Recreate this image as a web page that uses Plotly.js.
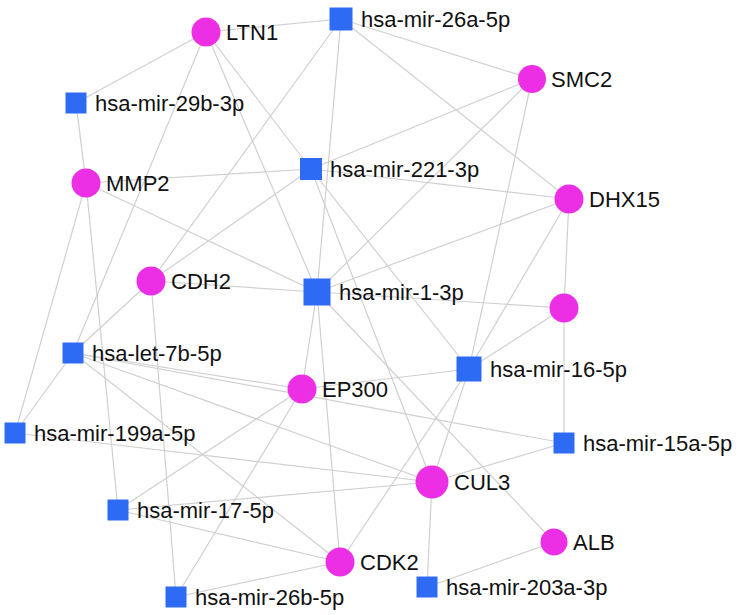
<!DOCTYPE html>
<html>
<head>
<meta charset="utf-8">
<script src="https://cdn.plot.ly/plotly-3.0.1.min.js"></script>
<style>html,body{margin:0;padding:0;background:#fff;}#chart{width:739px;height:615px;}</style>
</head>
<body>
<div id="chart"></div>
<script>
// Nodes of the network
const nodeIds   = ['LTN1','mir26a','SMC2','mir29b','MMP2','mir221','DHX15','CDH2','mir1','unnamed','let7b','EP300','mir16','mir199a','mir15a','CUL3','mir17','ALB','CDK2','mir26b','mir203a'];
const nodeLabels = ['LTN1','hsa-mir-26a-5p','SMC2','hsa-mir-29b-3p','MMP2','hsa-mir-221-3p','DHX15','CDH2','hsa-mir-1-3p','','hsa-let-7b-5p','EP300','hsa-mir-16-5p','hsa-mir-199a-5p','hsa-mir-15a-5p','CUL3','hsa-mir-17-5p','ALB','CDK2','hsa-mir-26b-5p','hsa-mir-203a-3p'];
const nodeKind  = ['gene','mirna','gene','mirna','gene','mirna','gene','gene','mirna','gene','mirna','gene','mirna','mirna','mirna','gene','mirna','gene','gene','mirna','mirna'];
// Layout coordinates of nodes
const nodeX = [206,341,532,76,86,311,569,151,317,564,73,302,469,15,564,432,118,554,340,176,427];
const nodeY = [32,19,79,103,183,169,199,281,292,308,353,389,369,433,443,482,510,542,562,597,587];

// Edges
const edgeFrom = ['LTN1','LTN1','LTN1','LTN1','LTN1','mir26a','mir26a','mir26a','mir26a','SMC2','SMC2','SMC2','DHX15','DHX15','DHX15','DHX15','unnamed','unnamed','unnamed','mir29b','MMP2','MMP2','MMP2','MMP2','mir221','mir221','mir221','CDH2','CDH2','CDH2','let7b','let7b','let7b','let7b','let7b','mir199a','mir17','mir17','mir17','mir26b','mir26b','EP300','EP300','mir1','mir1','mir16','mir16','CUL3','CUL3','ALB'];
const edgeTo   = ['mir26a','mir29b','let7b','mir221','mir1','SMC2','DHX15','mir1','CDH2','mir221','mir1','mir16','mir221','mir1','mir16','unnamed','mir1','mir16','mir15a','MMP2','mir221','mir1','mir199a','mir17','CDH2','CUL3','mir16','mir1','let7b','mir26b','mir199a','EP300','mir15a','CUL3','CDK2','CUL3','EP300','CUL3','CDK2','EP300','CDK2','mir1','mir16','CDK2','ALB','CUL3','CDK2','mir15a','mir203a','mir203a'];

// Styles
const geneColor = '#EC2EE4';
const mirnaColor = '#2D6BF5';
const edgeColor = '#D0D0D0';
const sizeOf = {CUL3: 33, ALB: 27, SMC2: 28, mir1: 27, mir16: 25, mir26a: 23, mir221: 22};
function nodeSize(id, kind){ return sizeOf[id] || (kind === 'gene' ? 29 : 21); }

const idx = {};
nodeIds.forEach((id, i) => idx[id] = i);

const ex = [], ey = [];
edgeFrom.forEach((f, k) => {
  const a = idx[f], b = idx[edgeTo[k]];
  ex.push(nodeX[a], nodeX[b], null);
  ey.push(nodeY[a], nodeY[b], null);
});

const traces = [{
  type: 'scatter', mode: 'lines', x: ex, y: ey,
  line: {color: edgeColor, width: 1.2}, hoverinfo: 'skip', showlegend: false
}];

['gene','mirna'].forEach(kind => {
  const ids = nodeIds.filter((id, i) => nodeKind[i] === kind);
  traces.push({
    type: 'scatter', mode: 'markers',
    x: ids.map(id => nodeX[idx[id]]),
    y: ids.map(id => nodeY[idx[id]]),
    text: ids.map(id => nodeLabels[idx[id]]),
    marker: {
      symbol: kind === 'gene' ? 'circle' : 'square',
      color: kind === 'gene' ? geneColor : mirnaColor,
      size: ids.map(id => nodeSize(id, kind)),
      opacity: 1,
      line: {width: 0}
    },
    cliponaxis: false, showlegend: false, hoverinfo: 'text'
  });
});

const annotations = nodeIds.map((id, i) => ({
  x: nodeX[i], y: nodeY[i], xref: 'x', yref: 'y',
  text: nodeLabels[i], showarrow: false,
  xanchor: 'left', yanchor: 'middle',
  xshift: nodeSize(id, nodeKind[i]) / 2 + (nodeKind[i] === 'gene' ? 3 : 6),
  font: {family: 'Liberation Sans, Arial, sans-serif', size: 22, color: '#111111'}
})).filter(a => a.text !== '');

const layout = {
  width: 739, height: 615,
  margin: {l: 0, r: 0, t: 0, b: 0},
  paper_bgcolor: '#fff', plot_bgcolor: '#fff',
  xaxis: {range: [0, 739], visible: false, fixedrange: true},
  yaxis: {range: [615, 0], visible: false, fixedrange: true},
  showlegend: false,
  annotations: annotations
};

Plotly.newPlot('chart', traces, layout, {displayModeBar: false, staticPlot: true});
</script>
</body>
</html>
